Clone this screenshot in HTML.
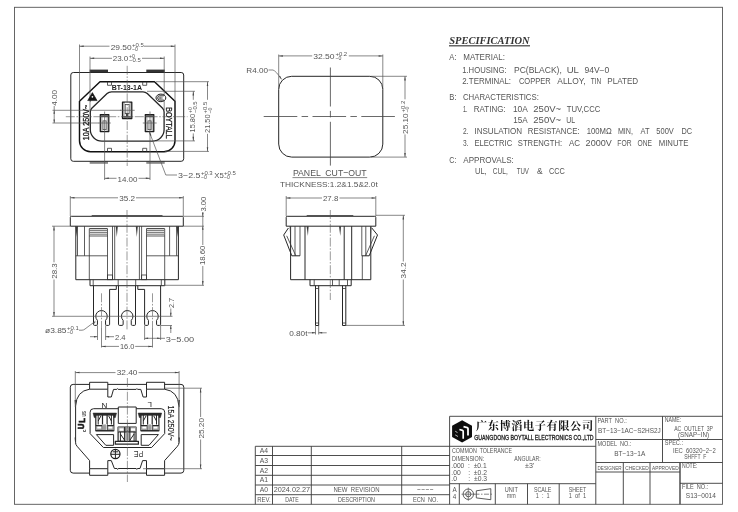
<!DOCTYPE html>
<html lang="zh">
<head>
<meta charset="utf-8">
<title>BT-13-1A AC OUTLET 3P (SNAP-IN)</title>
<style>
html,body{margin:0;padding:0;background:#fff;}
body{width:738px;height:512px;overflow:hidden;}
svg{display:block;filter:grayscale(1);}
text{font-family:'Liberation Sans', sans-serif;}
.t{fill:#555;}
.tb{fill:#222;font-weight:bold;}
.d{stroke:#555;stroke-width:0.7;fill:none;}
.f{stroke:#555;stroke-width:0.9;fill:none;}
.g{stroke:#3a3a3a;stroke-width:0.9;fill:none;}
.o{stroke:#262626;stroke-width:1.0;fill:none;stroke-linejoin:round;}
.k{stroke:#111;stroke-width:1.45;fill:none;stroke-linejoin:round;}
.m{stroke:#333;stroke-width:0.8;fill:none;}
.c{stroke:#555;stroke-width:0.6;fill:none;stroke-dasharray:9 1.6 1.6 1.6;}
.cd{stroke:#444;stroke-width:0.8;fill:none;}
.a{fill:#444;stroke:none;}
.fk{fill:#333;stroke:none;}
.fg{fill:#888;stroke:none;}
</style>
</head>
<body>
<svg width="738" height="512" viewBox="0 0 738 512">
<rect x="0" y="0" width="738" height="512" fill="#fff"/>
<g id="frame">
<rect class="f" x="14.5" y="7.3" width="708.0" height="497.0"/>
</g>
<g id="spec">
<text x="449.3" y="43.8" font-size="10.2" textLength="80.3" lengthAdjust="spacingAndGlyphs" style="font-family:'Liberation Serif',serif;font-weight:bold;font-style:italic;fill:#333">SPECIFICATION</text>
<line x1="449" y1="45.8" x2="530" y2="45.8" stroke="#666" stroke-width="1.6"/>
<text class="t" x="449.3" y="60.4" font-size="8.3" textLength="7.2" lengthAdjust="spacingAndGlyphs">A:</text>
<text class="t" x="463.3" y="60.4" font-size="8.3" textLength="41.6" lengthAdjust="spacingAndGlyphs">MATERIAL:</text>
<text class="t" x="462.2" y="72.7" font-size="8.3" textLength="44.5" lengthAdjust="spacingAndGlyphs">1.HOUSING:</text>
<text class="t" x="514" y="72.7" font-size="8.3" textLength="47.8" lengthAdjust="spacingAndGlyphs">PC(BLACK),</text>
<text class="t" x="566.7" y="72.7" font-size="8.3" textLength="12.2" lengthAdjust="spacingAndGlyphs">UL</text>
<text class="t" x="584.4" y="72.7" font-size="8.3" textLength="25.0" lengthAdjust="spacingAndGlyphs">94V−0</text>
<text class="t" x="462.2" y="84.0" font-size="8.3" textLength="48.9" lengthAdjust="spacingAndGlyphs">2.TERMINAL:</text>
<text class="t" x="518.9" y="84.0" font-size="8.3" textLength="31.8" lengthAdjust="spacingAndGlyphs">COPPER</text>
<text class="t" x="557.3" y="84.0" font-size="8.3" textLength="28.3" lengthAdjust="spacingAndGlyphs">ALLOY,</text>
<text class="t" x="590.8" y="84.0" font-size="8.3" textLength="10.5" lengthAdjust="spacingAndGlyphs">TIN</text>
<text class="t" x="607.3" y="84.0" font-size="8.3" textLength="30.8" lengthAdjust="spacingAndGlyphs">PLATED</text>
<text class="t" x="449.3" y="99.6" font-size="8.3" textLength="7.2" lengthAdjust="spacingAndGlyphs">B:</text>
<text class="t" x="462.9" y="99.6" font-size="8.3" textLength="76.0" lengthAdjust="spacingAndGlyphs">CHARACTERISTICS:</text>
<text class="t" x="462.9" y="111.8" font-size="8.3" textLength="4.6" lengthAdjust="spacingAndGlyphs">1.</text>
<text class="t" x="473.8" y="111.8" font-size="8.3" textLength="31.8" lengthAdjust="spacingAndGlyphs">RATING:</text>
<text class="t" x="512.9" y="111.8" font-size="8.3" textLength="14.9" lengthAdjust="spacingAndGlyphs">10A</text>
<text class="t" x="533.3" y="111.8" font-size="8.3" textLength="27.8" lengthAdjust="spacingAndGlyphs">250V~</text>
<text class="t" x="566.7" y="111.8" font-size="8.3" textLength="33.6" lengthAdjust="spacingAndGlyphs">TUV,CCC</text>
<text class="t" x="513.3" y="122.7" font-size="8.3" textLength="14.5" lengthAdjust="spacingAndGlyphs">15A</text>
<text class="t" x="533.3" y="122.7" font-size="8.3" textLength="27.8" lengthAdjust="spacingAndGlyphs">250V~</text>
<text class="t" x="566.2" y="122.7" font-size="8.3" textLength="8.9" lengthAdjust="spacingAndGlyphs">UL</text>
<text class="t" x="462.9" y="133.8" font-size="8.3" textLength="5.5" lengthAdjust="spacingAndGlyphs">2.</text>
<text class="t" x="474.4" y="133.8" font-size="8.3" textLength="47.8" lengthAdjust="spacingAndGlyphs">INSULATION</text>
<text class="t" x="527.8" y="133.8" font-size="8.3" textLength="51.8" lengthAdjust="spacingAndGlyphs">RESISTANCE:</text>
<text class="t" x="586.7" y="133.8" font-size="8.3" textLength="25.1" lengthAdjust="spacingAndGlyphs">100MΩ</text>
<text class="t" x="617.9" y="133.8" font-size="8.3" textLength="15.1" lengthAdjust="spacingAndGlyphs">MIN,</text>
<text class="t" x="640.6" y="133.8" font-size="8.3" textLength="9.0" lengthAdjust="spacingAndGlyphs">AT</text>
<text class="t" x="656.3" y="133.8" font-size="8.3" textLength="17.5" lengthAdjust="spacingAndGlyphs">500V</text>
<text class="t" x="681.4" y="133.8" font-size="8.3" textLength="10.6" lengthAdjust="spacingAndGlyphs">DC</text>
<text class="t" x="462.9" y="146.0" font-size="8.3" textLength="5.5" lengthAdjust="spacingAndGlyphs">3.</text>
<text class="t" x="474.4" y="146.0" font-size="8.3" textLength="37.8" lengthAdjust="spacingAndGlyphs">ELECTRIC</text>
<text class="t" x="517.8" y="146.0" font-size="8.3" textLength="44.4" lengthAdjust="spacingAndGlyphs">STRENGTH:</text>
<text class="t" x="568.9" y="146.0" font-size="8.3" textLength="11.1" lengthAdjust="spacingAndGlyphs">AC</text>
<text class="t" x="585.6" y="146.0" font-size="8.3" textLength="26.2" lengthAdjust="spacingAndGlyphs">2000V</text>
<text class="t" x="617.3" y="146.0" font-size="8.3" textLength="14.2" lengthAdjust="spacingAndGlyphs">FOR</text>
<text class="t" x="637.5" y="146.0" font-size="8.3" textLength="14.5" lengthAdjust="spacingAndGlyphs">ONE</text>
<text class="t" x="658.7" y="146.0" font-size="8.3" textLength="29.7" lengthAdjust="spacingAndGlyphs">MINUTE</text>
<text class="t" x="449.3" y="162.7" font-size="8.3" textLength="7.2" lengthAdjust="spacingAndGlyphs">C:</text>
<text class="t" x="463.3" y="162.7" font-size="8.3" textLength="50.5" lengthAdjust="spacingAndGlyphs">APPROVALS:</text>
<text class="t" x="475.1" y="174.4" font-size="8.3" textLength="11.6" lengthAdjust="spacingAndGlyphs">UL,</text>
<text class="t" x="492.7" y="174.4" font-size="8.3" textLength="15.1" lengthAdjust="spacingAndGlyphs">CUL,</text>
<text class="t" x="516.7" y="174.4" font-size="8.3" textLength="12.2" lengthAdjust="spacingAndGlyphs">TUV</text>
<text class="t" x="537.1" y="174.4" font-size="8.3" textLength="5.6" lengthAdjust="spacingAndGlyphs">&amp;</text>
<text class="t" x="548.9" y="174.4" font-size="8.3" textLength="16.0" lengthAdjust="spacingAndGlyphs">CCC</text>
</g>
<g id="title">
<line class="g" x1="255.3" y1="446.3" x2="449.6" y2="446.3"/>
<line class="g" x1="255.3" y1="455.5" x2="449.6" y2="455.5"/>
<line class="g" x1="255.3" y1="465.5" x2="449.6" y2="465.5"/>
<line class="g" x1="255.3" y1="475.3" x2="449.6" y2="475.3"/>
<line class="g" x1="255.3" y1="485.0" x2="449.6" y2="485.0"/>
<line class="g" x1="255.3" y1="494.7" x2="449.6" y2="494.7"/>
<line class="g" x1="255.3" y1="446.3" x2="255.3" y2="504.3"/>
<line class="g" x1="272.5" y1="446.3" x2="272.5" y2="504.3"/>
<line class="g" x1="311.3" y1="446.3" x2="311.3" y2="504.3"/>
<line class="g" x1="401.7" y1="446.3" x2="401.7" y2="504.3"/>
<text class="t" x="263.9" y="453.2" font-size="6.8" text-anchor="middle">A4</text>
<text class="t" x="263.9" y="462.95" font-size="6.8" text-anchor="middle">A3</text>
<text class="t" x="263.9" y="472.7" font-size="6.8" text-anchor="middle">A2</text>
<text class="t" x="263.9" y="482.45" font-size="6.8" text-anchor="middle">A1</text>
<text class="t" x="263.9" y="492.2" font-size="6.8" text-anchor="middle">A0</text>
<text class="t" x="263.9" y="502.0" font-size="6.5" text-anchor="middle" textLength="13.5" lengthAdjust="spacingAndGlyphs">REV.</text>
<text class="t" x="291.9" y="492.2" font-size="6.4" text-anchor="middle" textLength="36.5" lengthAdjust="spacingAndGlyphs">2024.02.27</text>
<text class="t" x="291.9" y="502.0" font-size="6.5" text-anchor="middle" textLength="13.5" lengthAdjust="spacingAndGlyphs">DATE</text>
<text class="t" x="356.5" y="492.2" font-size="6.3" text-anchor="middle" textLength="46" lengthAdjust="spacingAndGlyphs" xml:space="preserve">NEW  REVISION</text>
<text class="t" x="356.5" y="502.0" font-size="6.5" text-anchor="middle" textLength="37" lengthAdjust="spacingAndGlyphs">DESCRIPTION</text>
<text class="t" x="425.3" y="490.8" font-size="6.3" text-anchor="middle" textLength="17" lengthAdjust="spacingAndGlyphs">----</text>
<text class="t" x="425.5" y="502.0" font-size="6.5" text-anchor="middle" textLength="25" lengthAdjust="spacingAndGlyphs" xml:space="preserve">ECN  NO.</text>
<line class="g" x1="449.6" y1="416.3" x2="722.5" y2="416.3"/>
<line class="g" x1="449.6" y1="416.3" x2="449.6" y2="504.3"/>
<line class="g" x1="449.6" y1="446.3" x2="595.8" y2="446.3"/>
<line class="g" x1="449.6" y1="483.7" x2="595.8" y2="483.7"/>
<line class="g" x1="459.3" y1="483.7" x2="459.3" y2="504.3"/>
<line class="g" x1="495.3" y1="483.7" x2="495.3" y2="504.3"/>
<line class="g" x1="527.5" y1="483.7" x2="527.5" y2="504.3"/>
<line class="g" x1="559.2" y1="483.7" x2="559.2" y2="504.3"/>
<line class="g" x1="595.8" y1="416.3" x2="595.8" y2="504.3"/>
<line class="g" x1="595.8" y1="439.5" x2="722.5" y2="439.5"/>
<line class="g" x1="595.8" y1="462.5" x2="722.5" y2="462.5"/>
<line class="g" x1="595.8" y1="472.0" x2="680" y2="472.0"/>
<line class="g" x1="662.5" y1="416.3" x2="662.5" y2="462.5"/>
<line class="g" x1="623.3" y1="462.5" x2="623.3" y2="504.3"/>
<line class="g" x1="650" y1="462.5" x2="650" y2="504.3"/>
<line x1="680" y1="462.5" x2="680" y2="504.3" stroke="#444" stroke-width="1.4"/>
<line class="g" x1="680" y1="483.3" x2="722.5" y2="483.3"/>
<polygon points="462.1,420.3 472,425.8 472,436.9 462.1,442.5 452.1,436.9 452.1,425.8" fill="#0d0d0d"/>
<path d="M463.5,426.7 L467.3,427.6 Q468,427.8 468,428.6 L468,435.5" stroke="#fff" stroke-width="1.8" fill="none"/>
<path d="M459.4,429.5 L462.5,430.4 Q463.2,430.6 463.2,431.4 L463.2,438.7" stroke="#fff" stroke-width="1.7" fill="none"/>
<path d="M455.2,431.2 l2.3,1.4 M455.2,434.9 l2.8,1.6" stroke="#ddd" stroke-width="0.8" fill="none"/>
<text x="475.9" y="430.4" font-size="11.2" textLength="117.2" lengthAdjust="spacing" style="font-family:'Liberation Serif','Noto Serif CJK SC',serif;font-weight:700;fill:#111">广东博滔电子有限公司</text>
<text x="474.3" y="439.8" font-size="6.5" textLength="119.3" lengthAdjust="spacingAndGlyphs" style="fill:#222;stroke:#222;stroke-width:0.3">GUANGDONG BOYTALL ELECTRONICS CO.,LTD</text>
<text class="t" x="452" y="452.8" font-size="6.9" textLength="60" lengthAdjust="spacingAndGlyphs" xml:space="preserve">COMMON  TOLERANCE</text>
<text class="t" x="452" y="460.8" font-size="6.9" textLength="32.2" lengthAdjust="spacingAndGlyphs">DIMENSION:</text>
<text class="t" x="514.2" y="460.8" font-size="6.9" textLength="26.6" lengthAdjust="spacingAndGlyphs">ANGULAR:</text>
<text class="t" x="451.3" y="468.3" font-size="6.9" textLength="35.4" lengthAdjust="spacingAndGlyphs" xml:space="preserve">.000  :  ±0.1</text>
<text class="t" x="525" y="468.3" font-size="6.9" textLength="9.2" lengthAdjust="spacingAndGlyphs">±3'</text>
<text class="t" x="451.3" y="475.0" font-size="6.9" textLength="35.6" lengthAdjust="spacingAndGlyphs" xml:space="preserve">.00    :  ±0.2</text>
<text class="t" x="451.3" y="481.3" font-size="6.9" textLength="35.8" lengthAdjust="spacingAndGlyphs" xml:space="preserve">.0      :  ±0.3</text>
<text class="t" x="454.5" y="491.7" font-size="6.3" text-anchor="middle">A</text>
<text class="t" x="454.5" y="498.8" font-size="6.3" text-anchor="middle">4</text>
<circle class="m" cx="468.3" cy="494.2" r="5.2"/><circle class="m" cx="468.3" cy="494.2" r="2.6"/>
<line class="d" x1="461.5" y1="494.2" x2="475" y2="494.2"/>
<line class="d" x1="468.3" y1="487.6" x2="468.3" y2="500.8"/>
<path class="m" d="M476.3,490.8 L490.8,488.7 L490.8,499.7 L476.3,497.9 Z"/>
<line class="d" x1="474.5" y1="494.2" x2="492.5" y2="494.2" stroke-dasharray="5 1.5 1.5 1.5"/>
<text class="t" x="511.3" y="492.0" font-size="6.5" text-anchor="middle" textLength="13" lengthAdjust="spacingAndGlyphs">UNIT</text>
<text class="t" x="511.3" y="498.2" font-size="6.5" text-anchor="middle" textLength="9" lengthAdjust="spacingAndGlyphs">mm</text>
<text class="t" x="542.7" y="492.0" font-size="6.5" text-anchor="middle" textLength="17.5" lengthAdjust="spacingAndGlyphs">SCALE</text>
<text class="t" x="542.7" y="498.4" font-size="6.5" text-anchor="middle" textLength="14" lengthAdjust="spacingAndGlyphs" xml:space="preserve">1  :  1</text>
<text class="t" x="577.5" y="492.0" font-size="6.5" text-anchor="middle" textLength="17.5" lengthAdjust="spacingAndGlyphs">SHEET</text>
<text class="t" x="577.5" y="498.4" font-size="6.5" text-anchor="middle" textLength="17.5" lengthAdjust="spacingAndGlyphs" xml:space="preserve">1  of  1</text>
<text class="t" x="597.5" y="423.3" font-size="6.5" textLength="29.2" lengthAdjust="spacingAndGlyphs" xml:space="preserve">PART  NO.:</text>
<text class="t" x="598" y="433.3" font-size="6.6" textLength="62.8" lengthAdjust="spacingAndGlyphs">BT−13−1AC−S2HS2J</text>
<text class="t" x="597.5" y="446.2" font-size="6.5" textLength="33.8" lengthAdjust="spacingAndGlyphs" xml:space="preserve">MODEL  NO.:</text>
<text class="t" x="614.2" y="455.8" font-size="6.6" textLength="31.1" lengthAdjust="spacingAndGlyphs">BT−13−1A</text>
<text class="t" x="597.5" y="469.7" font-size="6.1" textLength="24.2" lengthAdjust="spacingAndGlyphs">DESIGNER</text>
<text class="t" x="625.3" y="469.7" font-size="6.1" textLength="23.4" lengthAdjust="spacingAndGlyphs">CHECKED</text>
<text class="t" x="652" y="469.7" font-size="6.1" textLength="26.7" lengthAdjust="spacingAndGlyphs">APPROVED</text>
<text class="t" x="664.7" y="422.2" font-size="6.3" textLength="16.5" lengthAdjust="spacingAndGlyphs">NAME:</text>
<text class="t" x="674.2" y="431.2" font-size="6.3" textLength="38.8" lengthAdjust="spacingAndGlyphs" xml:space="preserve">AC  OUTLET  3P</text>
<text class="t" x="678" y="437.3" font-size="6.3" textLength="31.2" lengthAdjust="spacingAndGlyphs">(SNAP−IN)</text>
<text class="t" x="664.7" y="445.3" font-size="6.3" textLength="18.3" lengthAdjust="spacingAndGlyphs">SPEC.:</text>
<text class="t" x="673" y="452.5" font-size="6.3" textLength="42.8" lengthAdjust="spacingAndGlyphs" xml:space="preserve">IEC  60320−2−2</text>
<text class="t" x="684.2" y="459.2" font-size="6.3" textLength="22.1" lengthAdjust="spacingAndGlyphs" xml:space="preserve">SHFFT  F</text>
<text class="t" x="682" y="468.0" font-size="6.3" textLength="15.5" lengthAdjust="spacingAndGlyphs">NOTE:</text>
<text class="t" x="682" y="488.7" font-size="6.3" textLength="26.3" lengthAdjust="spacingAndGlyphs" xml:space="preserve">FILE  NO.:</text>
<text class="t" x="685.8" y="498.3" font-size="6.5" textLength="30" lengthAdjust="spacingAndGlyphs">S13−0014</text>
</g>
<g id="front">
<rect class="fk" x="89.7" y="69.6" width="18.3" height="3.0"/>
<rect class="fk" x="146.3" y="69.6" width="18.4" height="3.0"/>
<rect class="fg" x="89.7" y="161.3" width="18.3" height="2.5"/>
<rect class="fg" x="146.3" y="161.3" width="18.4" height="2.5"/>
<rect class="o" x="70.8" y="72.5" width="112.9" height="88.8" rx="2.5"/>
<path class="k" d="M100,81.7 L154.5,81.7 L175,101.3 L175,140.7 A11,11 0 0 1 164,151.7 L90.5,151.7 A11,11 0 0 1 79.5,140.7 L79.5,101.3 Z"/>
<path class="m" d="M107.5,81.7 v3.6 h4 v-3.6"/>
<path class="m" d="M107.5,151.7 v-3.4 h4 v3.4"/>
<path class="m" d="M142.7,81.7 v3.6 h4 v-3.6"/>
<path class="m" d="M142.7,151.7 v-3.4 h4 v3.4"/>
<path class="o" style="stroke-width:1.3" d="M111.5,91.8 L143,91.8 Q145.5,91.8 147.3,93.5 L162.6,108.3 Q164.1,109.8 164.1,112 L164.1,129.5 A11.6,11.6 0 0 1 152.5,141.1 L101.9,141.1 A11.6,11.6 0 0 1 90.3,129.5 L90.3,112 Q90.3,109.8 91.8,108.3 L107.1,93.5 Q108.9,91.8 111.5,91.8 Z"/>
<rect class="o" x="100.3" y="114.6" width="8.5" height="17.0" style="fill:#bdbdbd;stroke:#1c1c1c;stroke-width:1.25"/>
<rect class="fk" x="102.6" y="117.19999999999999" width="3.9" height="13.7" style="fill:#fff"/>
<rect class="fk" x="101.0" y="115.3" width="7.1" height="1.9" style="fill:#555"/>
<rect class="m" x="103.0" y="120.89999999999999" width="3.1" height="8.8" style="fill:#fff;stroke:#333;stroke-width:0.7"/>
<rect class="o" x="122.5" y="102.0" width="9.3" height="16.5" style="fill:#bdbdbd;stroke:#1c1c1c;stroke-width:1.25"/>
<rect class="fk" x="124.8" y="102.7" width="4.7" height="13.4" style="fill:#fff"/>
<rect class="fk" x="123.2" y="116.1" width="7.9" height="1.7" style="fill:#666"/>
<rect class="m" x="125.2" y="104.6" width="3.9" height="9.1" style="fill:#fff;stroke:#333;stroke-width:0.7"/>
<rect class="fk" x="125.9" y="113.1" width="2.5" height="3.2" style="fill:#444"/>
<rect class="o" x="145.3" y="114.6" width="8.5" height="17.0" style="fill:#bdbdbd;stroke:#1c1c1c;stroke-width:1.25"/>
<rect class="fk" x="147.60000000000002" y="117.19999999999999" width="3.9" height="13.7" style="fill:#fff"/>
<rect class="fk" x="146.0" y="115.3" width="7.1" height="1.9" style="fill:#555"/>
<rect class="m" x="148.0" y="120.89999999999999" width="3.1" height="8.8" style="fill:#fff;stroke:#333;stroke-width:0.7"/>
<line class="c" x1="65.8" y1="116.7" x2="187.5" y2="116.7"/>
<line class="c" x1="127.2" y1="65.8" x2="127.2" y2="166"/>
<line class="d" x1="104.6" y1="111.5" x2="104.6" y2="180"/>
<line class="d" x1="150" y1="111.5" x2="150" y2="180"/>
<line class="d" x1="98.7" y1="123" x2="110.8" y2="123"/>
<line class="d" x1="142.8" y1="123" x2="156.7" y2="123"/>
<line class="d" x1="120" y1="110.3" x2="134.7" y2="110.3"/>
<line class="d" x1="79.5" y1="44.5" x2="79.5" y2="101"/>
<line class="d" x1="175" y1="44.5" x2="175" y2="101"/>
<line class="d" x1="79.5" y1="46.2" x2="109.5" y2="46.2"/>
<line class="d" x1="144" y1="46.2" x2="175" y2="46.2"/>
<polygon class="a" points="79.5,46.2 83.7,45.45 83.7,46.95"/>
<polygon class="a" points="175,46.2 170.8,45.45 170.8,46.95"/>
<text class="t" x="110.7" y="49.9" font-size="8.0" textLength="21" lengthAdjust="spacingAndGlyphs">29.50</text>
<g>
<text class="t" x="132.0" y="46.9" font-size="5.9" textLength="11.8" lengthAdjust="spacingAndGlyphs">+0.5</text>
<text class="t" x="132.0" y="51.1" font-size="5.9" textLength="5.9" lengthAdjust="spacingAndGlyphs">−0</text>
</g>
<line class="d" x1="90" y1="56.5" x2="90" y2="110"/>
<line class="d" x1="164.2" y1="56.5" x2="164.2" y2="110"/>
<line class="d" x1="90" y1="58.3" x2="112" y2="58.3"/>
<line class="d" x1="142" y1="58.3" x2="164.2" y2="58.3"/>
<polygon class="a" points="90,58.3 94.2,57.55 94.2,59.05"/>
<polygon class="a" points="164.2,58.3 160.0,57.55 160.0,59.05"/>
<text class="t" x="112.7" y="60.9" font-size="8.0" textLength="15.6" lengthAdjust="spacingAndGlyphs">23.0</text>
<g>
<text class="t" x="129.1" y="57.9" font-size="5.9" textLength="5.9" lengthAdjust="spacingAndGlyphs">+0</text>
<text class="t" x="129.1" y="62.1" font-size="5.9" textLength="11.8" lengthAdjust="spacingAndGlyphs">−0.5</text>
</g>
<line class="d" x1="104.6" y1="178.3" x2="116.5" y2="178.3"/>
<line class="d" x1="138.5" y1="178.3" x2="150" y2="178.3"/>
<polygon class="a" points="104.6,178.3 108.8,177.55 108.8,179.05"/>
<polygon class="a" points="150,178.3 145.8,177.55 145.8,179.05"/>
<text class="t" x="117.5" y="181.6" font-size="8.0" textLength="20" lengthAdjust="spacingAndGlyphs">14.00</text>
<line class="d" x1="52.5" y1="110.3" x2="121" y2="110.3"/>
<line class="d" x1="52.5" y1="123" x2="99" y2="123"/>
<line class="d" x1="54.2" y1="106" x2="54.2" y2="123"/>
<polygon class="a" points="54.2,110.3 53.45,113.8 54.95,113.8"/>
<polygon class="a" points="54.2,123 53.45,119.5 54.95,119.5"/>
<text class="t" x="57.0" y="105.8" font-size="8.0" textLength="15.8" lengthAdjust="spacingAndGlyphs" transform="rotate(-90 57.0 105.8)">4.00</text>
<line class="d" x1="147" y1="91.3" x2="195" y2="91.3"/>
<line class="d" x1="156" y1="140.9" x2="195" y2="140.9"/>
<line class="d" x1="193.3" y1="91.3" x2="193.3" y2="99.8"/>
<line class="d" x1="193.3" y1="133.4" x2="193.3" y2="140.9"/>
<polygon class="a" points="193.3,91.3 192.55,95.5 194.05,95.5"/>
<polygon class="a" points="193.3,140.9 192.55,136.70000000000002 194.05,136.70000000000002"/>
<text class="t" x="195.5" y="132.4" font-size="8.0" textLength="18.5" lengthAdjust="spacingAndGlyphs" transform="rotate(-90 195.5 132.4)">15.80</text>
<g transform="rotate(-90 195.5 113.2)">
<text class="t" x="195.6" y="110.2" font-size="5.9" textLength="5.9" lengthAdjust="spacingAndGlyphs">+0</text>
<text class="t" x="195.6" y="114.4" font-size="5.9" textLength="11.8" lengthAdjust="spacingAndGlyphs">−0.5</text>
</g>
<line class="d" x1="156" y1="81.7" x2="209" y2="81.7"/>
<line class="d" x1="165" y1="151.4" x2="209" y2="151.4"/>
<line class="d" x1="207.5" y1="81.7" x2="207.5" y2="99.8"/>
<line class="d" x1="207.5" y1="133.8" x2="207.5" y2="151.4"/>
<polygon class="a" points="207.5,81.7 206.75,85.9 208.25,85.9"/>
<polygon class="a" points="207.5,151.4 206.75,147.20000000000002 208.25,147.20000000000002"/>
<text class="t" x="210.4" y="132.9" font-size="8.0" textLength="18.5" lengthAdjust="spacingAndGlyphs" transform="rotate(-90 210.4 132.9)">21.50</text>
<g transform="rotate(-90 210.4 113.6)">
<text class="t" x="210.5" y="110.6" font-size="5.9" textLength="11.8" lengthAdjust="spacingAndGlyphs">+0.5</text>
<text class="t" x="210.5" y="114.8" font-size="5.9" textLength="5.9" lengthAdjust="spacingAndGlyphs">−0</text>
</g>
<path class="d" d="M149.3,131.8 L165.8,175 L177,175"/>
<polygon class="a" points="149.3,131.8 148.55,131.9 150.05,131.9"/>
<polygon class="a" points="149.3,131.8 151.4,135.2 150.1,135.7"/>
<text class="t" x="178" y="177.6" font-size="8.0" textLength="22.5" lengthAdjust="spacingAndGlyphs">3−2.5</text>
<g>
<text class="t" x="200.9" y="174.6" font-size="5.9" textLength="11.8" lengthAdjust="spacingAndGlyphs">+0.3</text>
<text class="t" x="200.9" y="178.79999999999998" font-size="5.9" textLength="5.9" lengthAdjust="spacingAndGlyphs">−0</text>
</g>
<text class="t" x="214.3" y="177.6" font-size="8.0" textLength="9.5" lengthAdjust="spacingAndGlyphs">X5</text>
<g>
<text class="t" x="224.1" y="174.6" font-size="5.9" textLength="11.8" lengthAdjust="spacingAndGlyphs">+0.5</text>
<text class="t" x="224.1" y="178.79999999999998" font-size="5.9" textLength="5.9" lengthAdjust="spacingAndGlyphs">−0</text>
</g>
<text class="tb" x="111.7" y="89.8" font-size="6.3" textLength="30.3" lengthAdjust="spacingAndGlyphs">BT-13-1A</text>
<text class="tb" style="font-weight:normal;stroke:#222;stroke-width:0.35" x="89.4" y="140.2" font-size="8.8" textLength="35.5" lengthAdjust="spacingAndGlyphs" transform="rotate(-90 89.4 140.2)">10A 250V~</text>
<text class="tb" style="font-weight:normal;stroke:#222;stroke-width:0.3" x="166.0" y="107.2" font-size="8.8" textLength="31.4" lengthAdjust="spacingAndGlyphs" transform="rotate(90 166.0 107.2)">BOYTALL</text>
<polygon points="92.4,92.6 87.7,100.6 97.1,100.6" fill="#151515" stroke="#151515" stroke-width="0.6" stroke-linejoin="round"/>
<circle cx="92.4" cy="96.8" r="0.85" fill="#fff"/>
<polygon points="89.6,100.6 91.2,100.6 90.4,101.8" fill="#222"/>
<ellipse cx="160.9" cy="97.9" rx="4.9" ry="3.8" fill="#fff" stroke="#1a1a1a" stroke-width="1.0"/>
<path d="M163.9,95.8 L159.6,95.8 Q157.7,95.8 157.7,97.9 Q157.7,100.1 159.6,100.1 L163.9,100.1" fill="none" stroke="#1a1a1a" stroke-width="0.9"/>
<path d="M159.3,96.7 V99.2 M160.6,96.7 V99.2 M161.9,96.7 V99.2" fill="none" stroke="#555" stroke-width="0.8"/>
</g>
<g id="panel">
<rect class="o" x="278.7" y="76.3" width="104.1" height="80.8" rx="13"/>
<line class="cd" x1="263.7" y1="116.5" x2="397" y2="116.5" stroke-dasharray="33.6 4.3 6.5 4.4"/>
<line class="cd" x1="330.4" y1="67.5" x2="330.4" y2="165.6" stroke-dasharray="39 4.4 6.5 4.4 44"/>
<line class="d" x1="278.7" y1="54.5" x2="278.7" y2="89"/>
<line class="d" x1="382.8" y1="54.5" x2="382.8" y2="89"/>
<line class="d" x1="278.7" y1="55.9" x2="312.2" y2="55.9"/>
<line class="d" x1="348.8" y1="55.9" x2="382.8" y2="55.9"/>
<polygon class="a" points="278.7,55.9 282.9,55.15 282.9,56.65"/>
<polygon class="a" points="382.8,55.9 378.6,55.15 378.6,56.65"/>
<text class="t" x="313.2" y="58.7" font-size="8.0" textLength="21.4" lengthAdjust="spacingAndGlyphs">32.50</text>
<g>
<text class="t" x="335.40000000000003" y="55.7" font-size="5.9" textLength="11.8" lengthAdjust="spacingAndGlyphs">+0.2</text>
<text class="t" x="335.40000000000003" y="59.900000000000006" font-size="5.9" textLength="5.9" lengthAdjust="spacingAndGlyphs">−0</text>
</g>
<line class="d" x1="371" y1="76.3" x2="407" y2="76.3"/>
<line class="d" x1="371" y1="157.1" x2="407" y2="157.1"/>
<line class="d" x1="405.0" y1="76.3" x2="405.0" y2="99.3"/>
<line class="d" x1="405.0" y1="134.4" x2="405.0" y2="157.1"/>
<polygon class="a" points="405.0,76.3 404.25,80.5 405.75,80.5"/>
<polygon class="a" points="405.0,157.1 404.25,152.9 405.75,152.9"/>
<text class="t" x="408.1" y="133.9" font-size="8.0" textLength="20.5" lengthAdjust="spacingAndGlyphs" transform="rotate(-90 408.1 133.9)">25.10</text>
<g transform="rotate(-90 408.1 112.6)">
<text class="t" x="408.20000000000005" y="109.6" font-size="5.9" textLength="11.8" lengthAdjust="spacingAndGlyphs">+0.2</text>
<text class="t" x="408.20000000000005" y="113.8" font-size="5.9" textLength="5.9" lengthAdjust="spacingAndGlyphs">−0</text>
</g>
<text class="t" x="246.3" y="72.5" font-size="7.4" textLength="21.7" lengthAdjust="spacingAndGlyphs">R4.00</text>
<path class="d" d="M268.5,70 L273,70 Q276,71 281.5,79.3"/>
<polygon class="a" points="281.7,79.6 279,76.6 280.2,75.9"/>
<text class="t" x="292.9" y="176" font-size="9.6" textLength="73.8" lengthAdjust="spacingAndGlyphs" xml:space="preserve">PANEL  CUT−OUT</text>
<line class="d" x1="292.5" y1="177.6" x2="367.2" y2="177.6"/>
<text class="t" x="280" y="186.7" font-size="7.6" textLength="97.8" lengthAdjust="spacingAndGlyphs">THICKNESS:1.2&amp;1.5&amp;2.0t</text>
</g>
<g id="side1">
<path class="o" d="M71.3,216.3 L182.3,216.3 Q183.3,216.3 183.3,217.3 L183.3,226.2 L70.3,226.2 L70.3,217.3 Q70.3,216.3 71.3,216.3 Z"/>
<line class="m" x1="91.7" y1="215.5" x2="162.5" y2="215.5"/>
<path class="o" d="M75.8,226.2 L75.8,279.7 L178.4,279.7 L178.4,226.2"/>
<line class="m" x1="84.5" y1="226.2" x2="84.5" y2="255.8"/>
<line class="m" x1="169.6" y1="226.2" x2="169.6" y2="255.8"/>
<line class="m" x1="89.3" y1="228.7" x2="89.3" y2="279.7"/>
<line class="m" x1="107.5" y1="228.7" x2="107.5" y2="279.7"/>
<line class="m" x1="146.5" y1="228.7" x2="146.5" y2="279.7"/>
<line class="m" x1="164.7" y1="228.7" x2="164.7" y2="279.7"/>
<line class="m" x1="112.5" y1="226.2" x2="112.5" y2="279.7"/>
<line class="m" x1="114.7" y1="226.2" x2="114.7" y2="279.7"/>
<line class="m" x1="139.4" y1="226.2" x2="139.4" y2="279.7"/>
<line class="m" x1="141.6" y1="226.2" x2="141.6" y2="279.7"/>
<line class="m" x1="77.5" y1="226.2" x2="77.5" y2="255.8"/>
<line class="m" x1="176.6" y1="226.2" x2="176.6" y2="255.8"/>
<line class="o" x1="89.3" y1="228.7" x2="107.5" y2="228.7"/>
<line class="m" style="stroke:#444;stroke-width:0.75" x1="89.8" y1="230.6" x2="107.0" y2="230.6"/>
<line class="m" style="stroke:#444;stroke-width:0.75" x1="89.8" y1="232.4" x2="107.0" y2="232.4"/>
<line class="m" style="stroke:#444;stroke-width:0.75" x1="89.8" y1="234.2" x2="107.0" y2="234.2"/>
<line class="m" x1="89.3" y1="236" x2="107.5" y2="236"/>
<line class="o" x1="146.5" y1="228.7" x2="164.7" y2="228.7"/>
<line class="m" style="stroke:#444;stroke-width:0.75" x1="147.0" y1="230.6" x2="164.2" y2="230.6"/>
<line class="m" style="stroke:#444;stroke-width:0.75" x1="147.0" y1="232.4" x2="164.2" y2="232.4"/>
<line class="m" style="stroke:#444;stroke-width:0.75" x1="147.0" y1="234.2" x2="164.2" y2="234.2"/>
<line class="m" x1="146.5" y1="236" x2="164.7" y2="236"/>
<line class="m" x1="75.8" y1="255.8" x2="107.5" y2="255.8"/>
<line class="m" x1="146.5" y1="255.8" x2="178.4" y2="255.8"/>
<polygon points="75.6,226.2 77.6,226.2 76.6,237" fill="#3a3a3a"/>
<polygon points="115.8,226.2 117.8,226.2 116.8,237" fill="#3a3a3a"/>
<polygon points="135.8,226.2 137.8,226.2 136.8,237" fill="#3a3a3a"/>
<polygon points="176.4,226.2 178.4,226.2 177.4,237" fill="#3a3a3a"/>
<rect class="m" x="107.5" y="275" width="5.0" height="4.7"/>
<rect class="m" x="141.6" y="275" width="4.9" height="4.7"/>
<path class="o" d="M90,279.7 L90,285.7 L164.8,285.7 L164.8,279.7"/>
<line class="m" x1="93.2" y1="279.7" x2="93.2" y2="285.7"/>
<line class="m" x1="118.2" y1="279.7" x2="118.2" y2="285.7"/>
<line class="m" x1="135.7" y1="279.7" x2="135.7" y2="285.7"/>
<line class="m" x1="161.3" y1="279.7" x2="161.3" y2="285.7"/>
<path class="o" d="M93.5,285.7 L93.5,324.3 Q93.5,325.4 94.6,325.4 L96.35000000000001,325.4 Q97.45,325.4 97.45,324.3 L97.45,320.38 A5.75,5.75 0 1 1 105.55,320.38 L105.55,324.3 Q105.55,325.4 106.64999999999999,325.4 L108.5,325.4 Q109.6,325.4 109.6,324.3 L109.6,289.4"/>
<path class="o" d="M109.6,289.4 L116.3,289.4 L116.3,285.7"/>
<path class="o" d="M118.5,285.7 L118.5,324.3 Q118.5,325.4 119.6,325.4 L122.05000000000001,325.4 Q123.15,325.4 123.15,324.3 L123.15,320.38 A5.75,5.75 0 1 1 131.25,320.38 L131.25,324.3 Q131.25,325.4 132.35,325.4 L134.4,325.4 Q135.5,325.4 135.5,324.3 L135.5,285.7"/>
<path class="o" d="M144.6,289.4 L144.6,324.3 Q144.6,325.4 145.7,325.4 L147.35,325.4 Q148.45,325.4 148.45,324.3 L148.45,320.38 A5.75,5.75 0 1 1 156.55,320.38 L156.55,324.3 Q156.55,325.4 157.65,325.4 L159.5,325.4 Q160.6,325.4 160.6,324.3 L160.6,285.7"/>
<path class="o" d="M144.6,289.4 L137.8,289.4 L137.8,285.7"/>
<line class="c" x1="127" y1="210" x2="127" y2="330.5"/>
<line class="c" x1="101.5" y1="293.3" x2="101.5" y2="328"/>
<line class="d" x1="101.5" y1="328" x2="101.5" y2="347.5"/>
<line class="c" x1="152.5" y1="293.3" x2="152.5" y2="328"/>
<line class="d" x1="152.5" y1="328" x2="152.5" y2="347.5"/>
<line class="d" x1="70.3" y1="196" x2="70.3" y2="216"/>
<line class="d" x1="183.3" y1="196" x2="183.3" y2="216"/>
<line class="d" x1="70.3" y1="197.8" x2="118" y2="197.8"/>
<line class="d" x1="136" y1="197.8" x2="183.3" y2="197.8"/>
<polygon class="a" points="70.3,197.8 74.5,197.05 74.5,198.55"/>
<polygon class="a" points="183.3,197.8 179.10000000000002,197.05 179.10000000000002,198.55"/>
<text class="t" x="119.2" y="200.8" font-size="8.0" textLength="15.8" lengthAdjust="spacingAndGlyphs">35.2</text>
<line class="d" x1="52" y1="226.2" x2="70" y2="226.2"/>
<line class="d" x1="52" y1="316.3" x2="172.5" y2="316.3"/>
<line class="d" x1="54" y1="226.2" x2="54" y2="262.3"/>
<line class="d" x1="54" y1="279.5" x2="54" y2="316.3"/>
<polygon class="a" points="54,226.2 53.25,230.39999999999998 54.75,230.39999999999998"/>
<polygon class="a" points="54,316.3 53.25,312.1 54.75,312.1"/>
<text class="t" x="56.9" y="278.7" font-size="8.0" textLength="15.4" lengthAdjust="spacingAndGlyphs" transform="rotate(-90 56.9 278.7)">28.3</text>
<line class="d" x1="183.3" y1="216.3" x2="204" y2="216.3"/>
<line class="d" x1="183.3" y1="226.2" x2="204" y2="226.2"/>
<line class="d" x1="164" y1="285.3" x2="204" y2="285.3"/>
<line class="d" x1="202.8" y1="212" x2="202.8" y2="245"/>
<line class="d" x1="202.8" y1="266" x2="202.8" y2="285.3"/>
<polygon class="a" points="202.8,216.3 202.05,212.8 203.55,212.8"/>
<polygon class="a" points="202.8,226.2 202.05,229.7 203.55,229.7"/>
<polygon class="a" points="202.8,285.3 202.05,281.1 203.55,281.1"/>
<text class="t" x="205.5" y="211.5" font-size="8.0" textLength="14.8" lengthAdjust="spacingAndGlyphs" transform="rotate(-90 205.5 211.5)">3.00</text>
<text class="t" x="205.5" y="265.1" font-size="8.0" textLength="19.5" lengthAdjust="spacingAndGlyphs" transform="rotate(-90 205.5 265.1)">18.60</text>
<line class="d" x1="160.6" y1="325.5" x2="172" y2="325.5"/>
<line class="d" x1="170.8" y1="308.5" x2="170.8" y2="316.3"/>
<line class="d" x1="170.8" y1="325.5" x2="170.8" y2="333"/>
<polygon class="a" points="170.8,316.3 170.05,312.8 171.55,312.8"/>
<polygon class="a" points="170.8,325.5 170.05,329.0 171.55,329.0"/>
<text class="t" x="173.8" y="308" font-size="8.0" textLength="10" lengthAdjust="spacingAndGlyphs" transform="rotate(-90 173.8 308)">2.7</text>
<line class="d" x1="97.5" y1="325.4" x2="97.5" y2="340"/>
<line class="d" x1="105.6" y1="325.4" x2="105.6" y2="340"/>
<line class="d" x1="90" y1="336.7" x2="97.5" y2="336.7"/>
<line class="d" x1="105.6" y1="336.7" x2="114" y2="336.7"/>
<polygon class="a" points="97.5,336.7 94.0,335.95 94.0,337.45"/>
<polygon class="a" points="105.6,336.7 109.1,335.95 109.1,337.45"/>
<text class="t" x="114.9" y="339.7" font-size="8.0" textLength="10.6" lengthAdjust="spacingAndGlyphs">2.4</text>
<line class="d" x1="144.6" y1="325.4" x2="144.6" y2="340"/>
<line class="d" x1="160.6" y1="325.4" x2="160.6" y2="340"/>
<line class="d" x1="144.6" y1="338.3" x2="165" y2="338.3"/>
<polygon class="a" points="144.6,338.3 148.1,337.55 148.1,339.05"/>
<polygon class="a" points="160.6,338.3 157.1,337.55 157.1,339.05"/>
<text class="t" x="165.8" y="341.6" font-size="8.0" textLength="28.4" lengthAdjust="spacingAndGlyphs">3−5.00</text>
<line class="d" x1="101.5" y1="346.4" x2="119" y2="346.4"/>
<line class="d" x1="135.2" y1="346.4" x2="152.5" y2="346.4"/>
<polygon class="a" points="101.5,346.4 105.7,345.65 105.7,347.15"/>
<polygon class="a" points="152.5,346.4 148.3,345.65 148.3,347.15"/>
<text class="t" x="119.9" y="348.9" font-size="8.0" textLength="14.5" lengthAdjust="spacingAndGlyphs">16.0</text>
<text class="t" x="45" y="332.6" font-size="8.0" textLength="21.5" lengthAdjust="spacingAndGlyphs">ø3.85</text>
<g>
<text class="t" x="67.0" y="329.6" font-size="5.9" textLength="11.8" lengthAdjust="spacingAndGlyphs">+0.1</text>
<text class="t" x="67.0" y="333.8" font-size="5.9" textLength="5.9" lengthAdjust="spacingAndGlyphs">−0</text>
</g>
<path class="d" d="M79,330.2 L82,330.2 Q83.5,330.2 85,329 L95.4,321.2"/>
<polygon class="a" points="96,321.4 93.4,324.4 92.6,323.3"/>
</g>
<g id="side2">
<path class="o" d="M287.2,216.3 L374.8,216.3 Q375.8,216.3 375.8,217.3 L375.8,226.2 L286.2,226.2 L286.2,217.3 Q286.2,216.3 287.2,216.3 Z"/>
<line class="m" x1="306.7" y1="215.5" x2="353.3" y2="215.5"/>
<path class="o" d="M290.6,226.2 L290.6,279.7 L370.8,279.7 L370.8,226.2"/>
<line class="o" x1="305" y1="226.2" x2="305" y2="279.7"/>
<line class="o" x1="344.2" y1="226.2" x2="344.2" y2="279.7"/>
<line class="o" x1="351.7" y1="226.2" x2="351.7" y2="279.7"/>
<line class="m" x1="295" y1="226.2" x2="295" y2="255.8"/>
<line class="m" x1="300" y1="226.2" x2="300" y2="255.8"/>
<line class="m" x1="361.8" y1="226.2" x2="361.8" y2="255.8"/>
<line class="m" x1="365.8" y1="226.2" x2="365.8" y2="255.8"/>
<line class="m" x1="362.3" y1="255.8" x2="362.3" y2="279.7"/>
<path class="o" d="M288.4,228 L283.7,235 L291.8,255.8 L300,255.8"/>
<path class="m" d="M286.7,235.8 L295.8,255.8"/>
<path class="o" d="M371.8,228 L377.5,235 L369.2,255.8 L361.8,255.8"/>
<path class="m" d="M374.4,235.8 L365.6,255.8"/>
<polygon points="289.6,226.2 291,226.2 290.7,246" fill="#444"/>
<polygon points="370.2,226.2 371.4,226.2 370.6,246" fill="#444"/>
<polygon points="306.6,226.2 308.6,226.2 307.90000000000003,236" fill="#3a3a3a"/>
<polygon points="339.0,226.2 341.0,226.2 340.3,236" fill="#3a3a3a"/>
<path class="o" d="M310,279.7 L310,285.7 L351.2,285.7 L351.2,279.7"/>
<line class="m" x1="314.2" y1="279.7" x2="314.2" y2="285.7"/>
<line class="m" x1="332.5" y1="279.7" x2="332.5" y2="285.7"/>
<line class="m" x1="339.2" y1="279.7" x2="339.2" y2="285.7"/>
<line class="m" x1="347.5" y1="279.7" x2="347.5" y2="285.7"/>
<path class="o" d="M315.5,285.7 L315.5,325.5 L318.7,325.5 L318.7,285.7"/>
<line class="m" x1="315.5" y1="288.5" x2="318.7" y2="288.5"/>
<line class="m" x1="315.5" y1="323" x2="318.7" y2="323"/>
<path class="o" d="M342.5,285.7 L342.5,325.5 L345.8,325.5 L345.8,285.7"/>
<line class="m" x1="342.5" y1="288.5" x2="345.8" y2="288.5"/>
<line class="m" x1="342.5" y1="323" x2="345.8" y2="323"/>
<line class="c" x1="330.3" y1="210" x2="330.3" y2="300"/>
<line class="d" x1="286.2" y1="196" x2="286.2" y2="216"/>
<line class="d" x1="375.8" y1="196" x2="375.8" y2="216"/>
<line class="d" x1="286.2" y1="198" x2="322" y2="198"/>
<line class="d" x1="339.5" y1="198" x2="375.8" y2="198"/>
<polygon class="a" points="286.2,198 290.4,197.25 290.4,198.75"/>
<polygon class="a" points="375.8,198 371.6,197.25 371.6,198.75"/>
<text class="t" x="323" y="201" font-size="8.0" textLength="15.3" lengthAdjust="spacingAndGlyphs">27.8</text>
<line class="d" x1="375.8" y1="215.3" x2="405" y2="215.3"/>
<line class="d" x1="345.8" y1="325.4" x2="405" y2="325.4"/>
<line class="d" x1="403.3" y1="215.3" x2="403.3" y2="261.5"/>
<line class="d" x1="403.3" y1="279.5" x2="403.3" y2="325.4"/>
<polygon class="a" points="403.3,215.3 402.55,219.5 404.05,219.5"/>
<polygon class="a" points="403.3,325.4 402.55,321.2 404.05,321.2"/>
<text class="t" x="406.3" y="278.4" font-size="8.0" textLength="16" lengthAdjust="spacingAndGlyphs" transform="rotate(-90 406.3 278.4)">34.2</text>
<line class="d" x1="315.5" y1="325.5" x2="315.5" y2="334.5"/>
<line class="d" x1="318.7" y1="325.5" x2="318.7" y2="334.5"/>
<line class="d" x1="308" y1="332.8" x2="315.5" y2="332.8"/>
<line class="d" x1="318.7" y1="332.8" x2="326.7" y2="332.8"/>
<polygon class="a" points="315.5,332.8 312.0,332.05 312.0,333.55"/>
<polygon class="a" points="318.7,332.8 322.2,332.05 322.2,333.55"/>
<text class="t" x="289.2" y="335.6" font-size="8.0" textLength="18.3" lengthAdjust="spacingAndGlyphs">0.80t</text>
</g>
<g id="bottom">
<rect class="o" x="70.3" y="384.4" width="113.5" height="88.7" rx="2.8"/>
<rect class="o" x="89.6" y="382.3" width="18.2" height="6.9" style="fill:#fff"/>
<rect class="o" x="89.6" y="468.7" width="18.2" height="6.6" style="fill:#fff"/>
<rect class="o" x="146.5" y="382.3" width="18.1" height="6.9" style="fill:#fff"/>
<rect class="o" x="146.5" y="468.7" width="18.1" height="6.6" style="fill:#fff"/>
<path class="o" d="M75.6,442.5 L75.6,406 Q76.5,391 89.6,389.2"/>
<path class="o" d="M178.9,442.5 L178.9,406 Q178,391 164.6,389.2"/>
<path class="o" d="M107.8,389.2 L107.8,397 L111.3,397 L113.5,389.4 L116.8,389.4 L117.5,388.6 L118.2,389.4 L136.2,389.4 L136.9,388.6 L137.6,389.4 L140.8,389.4 L143.1,397 L146.5,397 L146.5,389.2"/>
<path class="o" d="M75.6,442.5 Q75.6,444.6 77,446.2 L89.6,460.6 L89.6,468.7"/>
<path class="o" d="M178.9,442.5 Q178.9,444.6 177.5,446.2 L164.6,460.6 L164.6,468.7"/>
<path class="o" d="M107.8,468.7 L107.8,460.6 L111.3,460.6 L114.4,468.5 L117,468.5 L117.6,469.4 L118.2,468.5 L136.2,468.5 L136.8,469.4 L137.4,468.5 L140,468.5 L142.6,460.6 L146.5,460.6 L146.5,468.7"/>
<polygon points="74.6,400 76.0,400 75.3,407.5" fill="#333"/>
<polygon points="74.6,437.5 76.0,437.5 75.3,444.5" fill="#333"/>
<polygon points="178.5,400 179.89999999999998,400 179.2,407.5" fill="#333"/>
<polygon points="178.5,437.5 179.89999999999998,437.5 179.2,444.5" fill="#333"/>
<path class="o" d="M93.6,408.7 L161.2,408.7 Q164.7,408.7 164.7,412.2 L164.7,433.6 L151.6,447.5 L103.4,447.5 L90.1,433.6 L90.1,412.2 Q90.1,408.7 93.6,408.7 Z"/>
<rect class="o" x="118.3" y="407" width="17.9" height="16.4" style="fill:#fff"/>
<path class="o" d="M96.4,434.6 L113.6,434.6 L113.6,445.3 L105.8,445.3 Z"/>
<path class="o" d="M158.4,434.6 L141.2,434.6 L141.2,445.3 L149,445.3 Z"/>
<path class="o" style="fill:#2a2a2a;stroke-width:0.6" d="M93.1,413.1 L116.5,413.1 L115.3,417.6 L113.9,417.6 L113.9,415 L95.69999999999999,415 L95.69999999999999,417.6 L94.3,417.6 Z"/>
<rect class="o" x="95.8" y="415" width="18.0" height="15.7" style="stroke-width:1.2"/>
<rect class="fg" x="95.8" y="425.6" width="18.0" height="5.1" style="fill:#9a9a9a"/>
<line class="o" x1="98.2" y1="415" x2="98.2" y2="424.5"/>
<line class="o" x1="111.39999999999999" y1="415" x2="111.39999999999999" y2="424.5"/>
<line class="o" style="stroke-width:1.2" x1="102.5" y1="415" x2="102.5" y2="430.7"/>
<line class="o" style="stroke-width:1.2" x1="107.1" y1="415" x2="107.1" y2="430.7"/>
<path class="o" d="M98.2,421 L100.89999999999999,416 M111.39999999999999,421 L108.7,416"/>
<line class="o" style="stroke-width:1.2" x1="95.8" y1="425.6" x2="102.5" y2="425.6"/>
<line class="o" style="stroke-width:1.2" x1="107.1" y1="425.6" x2="113.8" y2="425.6"/>
<rect class="fk" x="97.2" y="426.6" width="4.0" height="2.0" style="fill:#fff"/>
<rect class="fk" x="108.39999999999999" y="426.6" width="4.0" height="2.0" style="fill:#fff"/>
<rect class="fk" x="102.5" y="424" width="4.6" height="6.7" style="fill:#fff"/>
<line class="m" style="stroke-width:0.6" x1="103.7" y1="424.5" x2="103.7" y2="430.7"/>
<line class="m" style="stroke-width:0.6" x1="104.8" y1="424.5" x2="104.8" y2="430.7"/>
<line class="m" style="stroke-width:0.6" x1="105.89999999999999" y1="424.5" x2="105.89999999999999" y2="430.7"/>
<line class="o" style="stroke-width:1.3" x1="95.8" y1="430.7" x2="113.8" y2="430.7"/>
<path class="o" style="fill:#2a2a2a;stroke-width:0.6" d="M138.2,413.1 L161.6,413.1 L160.4,417.6 L159.0,417.6 L159.0,415 L140.79999999999998,415 L140.79999999999998,417.6 L139.39999999999998,417.6 Z"/>
<rect class="o" x="140.89999999999998" y="415" width="18.0" height="15.7" style="stroke-width:1.2"/>
<rect class="fg" x="140.89999999999998" y="425.6" width="18.0" height="5.1" style="fill:#9a9a9a"/>
<line class="o" x1="143.29999999999998" y1="415" x2="143.29999999999998" y2="424.5"/>
<line class="o" x1="156.49999999999997" y1="415" x2="156.49999999999997" y2="424.5"/>
<line class="o" style="stroke-width:1.2" x1="147.59999999999997" y1="415" x2="147.59999999999997" y2="430.7"/>
<line class="o" style="stroke-width:1.2" x1="152.2" y1="415" x2="152.2" y2="430.7"/>
<path class="o" d="M143.29999999999998,421 L145.99999999999997,416 M156.49999999999997,421 L153.79999999999998,416"/>
<line class="o" style="stroke-width:1.2" x1="140.89999999999998" y1="425.6" x2="147.59999999999997" y2="425.6"/>
<line class="o" style="stroke-width:1.2" x1="152.2" y1="425.6" x2="158.9" y2="425.6"/>
<rect class="fk" x="142.29999999999998" y="426.6" width="4.0" height="2.0" style="fill:#fff"/>
<rect class="fk" x="153.49999999999997" y="426.6" width="4.0" height="2.0" style="fill:#fff"/>
<rect class="fk" x="147.59999999999997" y="424" width="4.6" height="6.7" style="fill:#fff"/>
<line class="m" style="stroke-width:0.6" x1="148.79999999999998" y1="424.5" x2="148.79999999999998" y2="430.7"/>
<line class="m" style="stroke-width:0.6" x1="149.89999999999998" y1="424.5" x2="149.89999999999998" y2="430.7"/>
<line class="m" style="stroke-width:0.6" x1="150.99999999999997" y1="424.5" x2="150.99999999999997" y2="430.7"/>
<line class="o" style="stroke-width:1.3" x1="140.89999999999998" y1="430.7" x2="158.9" y2="430.7"/>
<rect class="o" x="115.3" y="441.3" width="23.1" height="2.9" style="fill:#fff;stroke-width:1.2"/>
<rect class="o" x="118.1" y="427.1" width="17.9" height="14.2" style="stroke-width:1.2"/>
<rect class="fg" x="118.1" y="427.1" width="17.9" height="4.9" style="fill:#999"/>
<rect class="fk" x="119.4" y="428.3" width="4.2" height="2.5" style="fill:#fff"/>
<rect class="fk" x="130.8" y="428.3" width="4.2" height="2.5" style="fill:#fff"/>
<line class="o" x1="120.4" y1="432" x2="120.4" y2="441.3"/>
<line class="o" x1="134.1" y1="432" x2="134.1" y2="441.3"/>
<line class="o" style="stroke-width:1.2" x1="124.7" y1="427.1" x2="124.7" y2="441.3"/>
<line class="o" style="stroke-width:1.2" x1="129.8" y1="427.1" x2="129.8" y2="441.3"/>
<rect class="fg" x="125.3" y="432.5" width="3.9" height="8.5" style="fill:#aaa"/>
<path class="o" d="M120.4,434 L124.7,440.3 M134.1,434 L129.8,440.3"/>
<line class="o" x1="118.1" y1="432" x2="136" y2="432"/>
<circle class="o" cx="115.4" cy="454" r="4.6" style="stroke-width:1.2;stroke:#1a1a1a"/>
<line class="o" x1="110.8" y1="454.3" x2="120" y2="454.3"/>
<line class="o" x1="115.4" y1="449.4" x2="115.4" y2="458.6"/>
<line class="o" x1="112.6" y1="451.8" x2="118.2" y2="451.8"/>
<text class="tb" style="font-weight:normal;fill:#222" x="104.4" y="407.5" font-size="8.0" text-anchor="middle">N</text>
<text class="tb" style="font-weight:normal;fill:#222" x="149.7" y="401.8" font-size="8.0" text-anchor="middle" transform="rotate(180 149.7 401.8)">L</text>
<text class="tb" style="font-weight:normal;fill:#333" x="138.6" y="451.0" font-size="8.2" text-anchor="middle" textLength="9.4" lengthAdjust="spacingAndGlyphs" transform="rotate(180 138.6 451.0)">PE</text>
<text class="tb" style="font-weight:normal;stroke:#222;stroke-width:0.15" x="168.1" y="405.6" font-size="8.8" textLength="35" lengthAdjust="spacingAndGlyphs" transform="rotate(90 168.1 405.6)">15A 250V~</text>
<text x="83.9" y="429.3" font-size="9" textLength="5.6" lengthAdjust="spacingAndGlyphs" transform="rotate(-90 83.9 429.3)" style="font-weight:bold;fill:#1a1a1a;stroke:#1a1a1a;stroke-width:0.7">U</text>
<text x="85.4" y="422.8" font-size="9" textLength="4.8" lengthAdjust="spacingAndGlyphs" transform="rotate(-90 85.4 422.8)" style="font-weight:bold;fill:#1a1a1a;stroke:#1a1a1a;stroke-width:0.7">L</text>
<text x="85.9" y="416.6" font-size="4.8" textLength="5.6" lengthAdjust="spacingAndGlyphs" transform="rotate(-90 85.9 416.6)" style="font-weight:bold;fill:#333">US</text>
<text x="85.7" y="432.2" font-size="5" transform="rotate(-90 85.7 432.2)" style="font-weight:bold;fill:#333">c</text>
<line class="c" x1="127.4" y1="378" x2="127.4" y2="482"/>
<line class="d" x1="75.3" y1="371" x2="75.3" y2="407"/>
<line class="d" x1="179.1" y1="371" x2="179.1" y2="407"/>
<line class="d" x1="75.3" y1="372.6" x2="115.5" y2="372.6"/>
<line class="d" x1="138.5" y1="372.6" x2="179.1" y2="372.6"/>
<polygon class="a" points="75.3,372.6 79.5,371.85 79.5,373.35"/>
<polygon class="a" points="179.1,372.6 174.9,371.85 174.9,373.35"/>
<text class="t" x="116.7" y="375.3" font-size="8.0" textLength="20.8" lengthAdjust="spacingAndGlyphs">32.40</text>
<line class="d" x1="165" y1="388.2" x2="202" y2="388.2"/>
<line class="d" x1="143" y1="468.7" x2="202" y2="468.7"/>
<line class="d" x1="200.6" y1="388.2" x2="200.6" y2="417"/>
<line class="d" x1="200.6" y1="439.5" x2="200.6" y2="468.7"/>
<polygon class="a" points="200.6,388.2 199.85,392.4 201.35,392.4"/>
<polygon class="a" points="200.6,468.7 199.85,464.5 201.35,464.5"/>
<text class="t" x="203.7" y="438.5" font-size="8.0" textLength="20.5" lengthAdjust="spacingAndGlyphs" transform="rotate(-90 203.7 438.5)">25.20</text>
</g>
</svg>
</body>
</html>
